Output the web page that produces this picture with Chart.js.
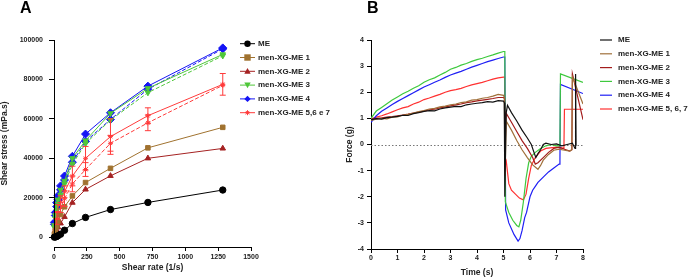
<!DOCTYPE html>
<html>
<head>
<meta charset="utf-8">
<script src="https://cdn.jsdelivr.net/npm/chart.js"></script>
<style>
  body { margin: 0; background: #fff; }
  #wrap { position: relative; width: 697px; height: 280px; font-family: "Liberation Sans", Arial, sans-serif; }
  .panel { position: absolute; top: 0; height: 280px; }
  #boxA { left: 0; width: 345px; }
  #boxB { left: 345px; width: 352px; }
  .tag { position: absolute; top: 0; font-weight: bold; font-size: 16px; line-height: 16px; color: #000; }
</style>
</head>
<body>
<div id="wrap">
  <div class="panel" id="boxA"><canvas id="chartA" width="345" height="280"></canvas></div>
  <div class="panel" id="boxB"><canvas id="chartB" width="352" height="280"></canvas></div>
  <div class="tag" style="left:20px">A</div>
  <div class="tag" style="left:367px">B</div>
</div>
<script>
// ---- panel A data: shear stress vs shear rate
const shearRate = [3, 10, 20, 30, 50, 80, 140, 240, 430, 715, 1285];
const stressME   = [0, 100, 300, 700, 1500, 3500, 6900, 10000, 14000, 17600, 23900];
const stressXG1  = [1500, 3500, 5500, 8000, 11500, 15400, 20900, 27700, 34900, 45300, 55700];
const stressXG2  = [800, 2000, 3500, 5000, 7000, 10300, 17500, 24200, 31100, 40000, 45000];
const stressXG3  = [6000, 11000, 15500, 19000, 24000, 28500, 40000, 49000, 62800, 75500, 92700];
const stressXG3b = [5000, 9500, 13500, 17000, 21500, 27000, 37000, 47500, 59400, 73300, 92000];
const stressXG4  = [7500, 12500, 17500, 21000, 26000, 31000, 41000, 52300, 63100, 76600, 96000];
const stressXG4b = [6500, 11000, 15500, 19000, 24000, 29000, 38000, 48500, 59700, 75000, 95500];
const stressXG5  = [3000, 7000, 11000, 14500, 18500, 23000, 31000, 40000, 51000, 61600, 77500];
const stressXG5b = [2000, 5000, 8000, 11000, 15000, 19500, 27000, 34300, 47600, 58000, 77000];
const errXG5     = [0, 0, 1500, 2000, 2500, 3000, 5000, 6000, 9000, 4000, 5500];
const errXG5b    = [0, 0, 1500, 2000, 2500, 4000, 4000, 3500, 4000, 4000, 0];
const shearTicks  = [0, 250, 500, 750, 1000, 1250, 1500];
const stressTicks = [0, 20000, 40000, 60000, 80000, 100000];
const labelsA = ['ME', 'men-XG-ME 1', 'men-XG-ME 2', 'men-XG-ME 3', 'men-XG-ME 4', 'men-XG-ME 5,6 e 7'];

// ---- panel B data: force vs time
const tRise = [0, 0.2, 0.4, 0.6, 0.8, 1.0, 1.2, 1.4, 1.6, 1.8, 2.0, 2.2, 2.4, 2.6, 2.8, 3.0, 3.2, 3.4, 3.6, 3.8, 4.0, 4.2, 4.4, 4.6, 4.8, 5.0];
const riseME  = [0.95, 0.99, 0.97, 1.03, 1.05, 1.08, 1.12, 1.11, 1.18, 1.22, 1.27, 1.3, 1.29, 1.36, 1.4, 1.43, 1.46, 1.45, 1.52, 1.55, 1.58, 1.6, 1.64, 1.62, 1.68, 1.66];
const riseXG1 = [0.92, 0.97, 1.0, 0.98, 1.05, 1.06, 1.12, 1.15, 1.2, 1.26, 1.3, 1.36, 1.38, 1.44, 1.47, 1.52, 1.55, 1.6, 1.63, 1.7, 1.72, 1.77, 1.8, 1.85, 1.92, 1.88];
const riseXG2 = [0.95, 1.0, 1.02, 1.05, 1.07, 1.1, 1.13, 1.16, 1.2, 1.24, 1.28, 1.33, 1.35, 1.4, 1.44, 1.48, 1.52, 1.55, 1.6, 1.63, 1.67, 1.7, 1.73, 1.76, 1.8, 1.8];
const riseXG3 = [1.0, 1.28, 1.42, 1.56, 1.7, 1.82, 1.94, 2.04, 2.15, 2.25, 2.38, 2.48, 2.55, 2.66, 2.76, 2.88, 2.95, 3.04, 3.1, 3.18, 3.25, 3.3, 3.37, 3.43, 3.5, 3.56];
const riseXG4 = [0.85, 1.1, 1.27, 1.4, 1.53, 1.65, 1.76, 1.87, 1.98, 2.09, 2.2, 2.29, 2.38, 2.47, 2.57, 2.66, 2.73, 2.8, 2.88, 2.96, 3.03, 3.1, 3.17, 3.23, 3.29, 3.35];
const riseXG5 = [0.98, 1.05, 1.1, 1.17, 1.25, 1.33, 1.4, 1.45, 1.55, 1.62, 1.72, 1.78, 1.85, 1.92, 2.0, 2.06, 2.1, 2.15, 2.22, 2.28, 2.33, 2.38, 2.44, 2.5, 2.55, 2.58];

const tPostME  = [5.03, 5.05, 5.1, 5.15, 5.3, 5.5, 5.7, 5.9, 6.05, 6.15, 6.22, 6.3, 6.4, 6.5, 6.6, 6.8, 7.0, 7.2, 7.4, 7.6, 7.7, 7.72, 7.74];
const yPostME  = [1.6, -2.0, 1.2, 1.5, 1.22, 0.9, 0.55, 0.25, 0.0, -0.3, -0.5, -0.35, -0.2, 0.0, 0.05, 0.0, 0.02, -0.05, 0.0, 0.05, -0.15, 2.7, -0.05];
const tPostXG1 = [5.03, 5.06, 5.1, 5.3, 5.5, 5.7, 5.9, 6.1, 6.3, 6.4, 6.5, 6.7, 6.9, 7.1, 7.3, 7.5, 7.58, 7.6, 8.0];
const yPostXG1 = [1.8, -1.2, 0.9, 0.55, 0.15, -0.2, -0.5, -0.78, -0.95, -0.8, -0.6, -0.38, -0.22, -0.18, -0.22, -0.25, -0.2, 2.6, 1.55];
const tPostXG2 = [5.04, 5.07, 5.1, 5.3, 5.5, 5.7, 5.9, 6.1, 6.2, 6.3, 6.5, 6.7, 6.9, 7.1, 7.3, 7.5, 7.58, 7.6, 8.0];
const yPostXG2 = [1.75, 0.2, 1.2, 0.85, 0.5, 0.15, -0.15, -0.5, -0.75, -0.7, -0.5, -0.3, -0.15, -0.1, -0.18, -0.25, -0.2, 2.7, 0.95];
const tPostXG3 = [5.05, 5.07, 5.2, 5.35, 5.5, 5.58, 5.65, 5.75, 5.85, 5.95, 6.05, 6.2, 6.4, 6.6, 6.8, 7.0, 7.13, 7.15, 8.0];
const yPostXG3 = [3.56, -2.2, -2.6, -2.9, -3.1, -3.15, -2.9, -2.2, -1.3, -0.7, -0.45, -0.3, -0.15, -0.05, 0.0, -0.05, -0.05, 2.7, 2.38];
const tPostXG4 = [5.05, 5.08, 5.2, 5.4, 5.55, 5.62, 5.7, 5.8, 5.87, 6.0, 6.1, 6.2, 6.3, 6.5, 6.7, 6.9, 7.1, 7.13, 7.15, 8.0];
const yPostXG4 = [3.35, -2.5, -3.0, -3.45, -3.7, -3.6, -3.3, -2.8, -2.6, -2.0, -1.75, -1.6, -1.45, -1.25, -1.05, -0.9, -0.75, -0.6, 2.3, 1.95];
const tPostXG5 = [5.04, 5.06, 5.1, 5.2, 5.3, 5.45, 5.6, 5.75, 5.85, 5.95, 6.05, 6.2, 6.4, 6.6, 7.0, 7.28, 7.3, 8.0];
const yPostXG5 = [2.58, -0.5, -0.6, -1.5, -1.75, -1.9, -2.05, -2.12, -1.9, -1.3, -0.8, -0.5, -0.25, -0.15, -0.1, -0.15, 1.35, 1.35];
const timeTicks  = [0, 1, 2, 3, 4, 5, 6, 7, 8];
const forceTicks = [-4, -3, -2, -1, 0, 1, 2, 3, 4];
const labelsB = ['ME', 'men-XG-ME 1', 'men-XG-ME 2', 'men-XG-ME 3', 'men-XG-ME 4', 'men-XG-ME 5, 6, 7'];

const FONT = '"Liberation Sans", Arial, sans-serif';
const colA = ['#000000', '#a0722f', '#a52222', '#4fc73a', '#1414f5', '#ff3b3b'];
const colB = ['#111111', '#a0703a', '#a31c1c', '#3ec93e', '#1f1ff5', '#ff3030'];

function xy(xs, ys) { return ys.map((v, i) => ({ x: xs[i], y: v })); }
function trace(rise, tp, yp) { return xy(tRise, rise).concat(xy(tp, yp)); }

function marker(ctx, style, x, y, r) {
  ctx.beginPath();
  if (style === 'circle') ctx.arc(x, y, r, 0, Math.PI * 2);
  else if (style === 'rect') ctx.rect(x - r, y - r, 2 * r, 2 * r);
  else if (style === 'triangle') { ctx.moveTo(x, y - r); ctx.lineTo(x + r, y + r * 0.8); ctx.lineTo(x - r, y + r * 0.8); ctx.closePath(); }
  else if (style === 'triangleDown') { ctx.moveTo(x, y + r); ctx.lineTo(x + r, y - r * 0.8); ctx.lineTo(x - r, y - r * 0.8); ctx.closePath(); }
  else if (style === 'rectRot') { ctx.moveTo(x, y - r); ctx.lineTo(x + r, y); ctx.lineTo(x, y + r); ctx.lineTo(x - r, y); ctx.closePath(); }
  if (style === 'star') {
    ctx.moveTo(x - r, y); ctx.lineTo(x + r, y); ctx.moveTo(x, y - r); ctx.lineTo(x, y + r);
    ctx.moveTo(x - r * 0.7, y - r * 0.7); ctx.lineTo(x + r * 0.7, y + r * 0.7);
    ctx.moveTo(x - r * 0.7, y + r * 0.7); ctx.lineTo(x + r * 0.7, y - r * 0.7);
    ctx.stroke();
  } else if (style) ctx.fill();
}

// legend drawn at fixed spot, GraphPad style (line + marker)
function legendPlugin(labels, colors, styles, x0, x1, tx, y0, dy, lw) {
  return {
    id: 'sideLegend',
    afterDraw(chart) {
      const ctx = chart.ctx;
      ctx.save();
      ctx.font = 'bold 8px ' + FONT;
      ctx.textBaseline = 'middle';
      labels.forEach((lab, i) => {
        const y = y0 + i * dy;
        ctx.strokeStyle = colors[i]; ctx.fillStyle = colors[i]; ctx.lineWidth = lw;
        ctx.beginPath(); ctx.moveTo(x0, y); ctx.lineTo(x1, y); ctx.stroke();
        if (styles) { ctx.lineWidth = 1; marker(ctx, styles[i], (x0 + x1) / 2, y, styles[i] === 'star' ? 2.5 : 3.2); }
        ctx.fillStyle = '#222';
        ctx.fillText(lab, tx, y);
      });
      ctx.restore();
    }
  };
}

// detached axis lines for panel A
const axesA = {
  id: 'axesA',
  afterDraw(chart) {
    const { ctx, scales: { x, y } } = chart;
    ctx.save();
    ctx.strokeStyle = '#000'; ctx.lineWidth = 1;
    ctx.beginPath();
    const ax = Math.round(x.getPixelForValue(0)) + 0.5;
    ctx.moveTo(ax, y.getPixelForValue(stressTicks[stressTicks.length - 1]));
    ctx.lineTo(ax, y.getPixelForValue(0));
    const ay = Math.round(y.bottom) + 0.5;
    ctx.moveTo(x.getPixelForValue(0), ay);
    ctx.lineTo(x.getPixelForValue(shearTicks[shearTicks.length - 1]), ay);
    ctx.stroke();
    ctx.restore();
  }
};

// error bars for the red series
const errBars = {
  id: 'errBars',
  afterDatasetsDraw(chart) {
    const { ctx, scales: { x, y } } = chart;
    ctx.save();
    ctx.strokeStyle = colA[5]; ctx.lineWidth = 1;
    [[stressXG5, errXG5], [stressXG5b, errXG5b]].forEach(([vals, errs]) => {
      vals.forEach((v, i) => {
        if (!errs[i]) return;
        const px = x.getPixelForValue(shearRate[i]);
        const top = y.getPixelForValue(v + errs[i]), bot = y.getPixelForValue(v - errs[i]);
        ctx.beginPath();
        ctx.moveTo(px, top); ctx.lineTo(px, bot);
        ctx.moveTo(px - 3, top); ctx.lineTo(px + 3, top);
        ctx.moveTo(px - 3, bot); ctx.lineTo(px + 3, bot);
        ctx.stroke();
      });
    });
    ctx.restore();
  }
};

const zeroLine = {
  id: 'zeroLine',
  beforeDatasetsDraw(chart) {
    const { ctx, chartArea, scales: { y } } = chart;
    const py = Math.round(y.getPixelForValue(0)) + 0.5;
    ctx.save();
    ctx.strokeStyle = '#777'; ctx.lineWidth = 1; ctx.setLineDash([1.5, 2]);
    ctx.beginPath(); ctx.moveTo(chartArea.left, py); ctx.lineTo(chartArea.right, py); ctx.stroke();
    ctx.restore();
  }
};

function ds(label, vals, color, style, dash, rot) {
  return {
    label: label, data: xy(shearRate, vals),
    borderColor: color, backgroundColor: color, borderWidth: 1,
    borderDash: dash ? [4, 2] : [],
    pointStyle: style, pointRotation: rot || 0,
    pointRadius: style === 'star' ? 2.5 : (style === 'rectRot' ? 4 : 3.2),
    pointBorderWidth: 1, tension: 0, clip: false
  };
}

const tickFont = { family: FONT, size: 7, weight: 'bold' };
const titleFont = { family: FONT, size: 8.5, weight: 'bold' };

new Chart(document.getElementById('chartA'), {
  type: 'line',
  data: {
    datasets: [
      ds(labelsA[0], stressME, colA[0], 'circle'),
      ds(labelsA[1], stressXG1, colA[1], 'rect'),
      ds(labelsA[2], stressXG2, colA[2], 'triangle'),
      ds(labelsA[3], stressXG3, colA[3], 'triangle', false, 180),
      ds(labelsA[3], stressXG3b, colA[3], 'triangle', true, 180),
      ds(labelsA[4], stressXG4, colA[4], 'rectRot'),
      ds(labelsA[4], stressXG4b, colA[4], 'rectRot', true),
      ds(labelsA[5], stressXG5, colA[5], 'star'),
      ds(labelsA[5], stressXG5b, colA[5], 'star', true)
    ]
  },
  options: {
    responsive: false, animation: false,
    layout: { padding: { left: 0, top: 40, right: 94, bottom: 0 } },
    plugins: { legend: { display: false }, tooltip: { enabled: false } },
    scales: {
      x: {
        type: 'linear', min: 0, max: 1500,
        afterBuildTicks: s => { s.ticks = shearTicks.map(v => ({ value: v })); },
        afterFit: s => { s.height = 33; },
        border: { display: false },
        grid: { drawOnChartArea: false, tickLength: 4, color: '#000' },
        ticks: { font: tickFont, color: '#222', padding: 2, maxRotation: 0, callback: v => String(v) },
        title: { display: true, text: 'Shear rate (1/s)', font: titleFont, color: '#222', padding: { top: 0, bottom: 7 } }
      },
      y: {
        min: -5000, max: 100000,
        afterBuildTicks: s => { s.ticks = stressTicks.map(v => ({ value: v })); },
        afterFit: s => { s.width = 54; },
        border: { display: false },
        grid: { drawOnChartArea: false, tickLength: 5, color: '#000' },
        ticks: { font: tickFont, color: '#222', padding: 6, callback: v => String(v) },
        title: { display: true, text: 'Shear stress (mPa.s)', font: titleFont, color: '#222', padding: { top: 0, bottom: 0 } }
      }
    }
  },
  plugins: [axesA, errBars,
    legendPlugin(labelsA, colA, ['circle', 'rect', 'triangle', 'triangleDown', 'rectRot', 'star'], 240, 255, 258, 43.7, 13.8, 1)]
});

function lineB(label, data, color) {
  return { label: label, data: data, borderColor: color, backgroundColor: color, borderWidth: 1.2, pointRadius: 0, tension: 0 };
}

new Chart(document.getElementById('chartB'), {
  type: 'line',
  data: {
    datasets: [
      lineB(labelsB[0], trace(riseME, tPostME, yPostME), colB[0]),
      lineB(labelsB[1], trace(riseXG1, tPostXG1, yPostXG1), colB[1]),
      lineB(labelsB[2], trace(riseXG2, tPostXG2, yPostXG2), colB[2]),
      lineB(labelsB[3], trace(riseXG3, tPostXG3, yPostXG3), colB[3]),
      lineB(labelsB[4], trace(riseXG4, tPostXG4, yPostXG4), colB[4]),
      lineB(labelsB[5], trace(riseXG5, tPostXG5, yPostXG5), colB[5])
    ]
  },
  options: {
    responsive: false, animation: false,
    layout: { padding: { left: 0, top: 40, right: 114, bottom: 0 } },
    plugins: { legend: { display: false }, tooltip: { enabled: false } },
    scales: {
      x: {
        type: 'linear', min: 0, max: 8,
        afterBuildTicks: s => { s.ticks = timeTicks.map(v => ({ value: v })); },
        afterFit: s => { s.height = 31; },
        border: { display: true, color: '#000', width: 1 },
        grid: { drawOnChartArea: false, tickLength: 4, color: '#000' },
        ticks: { font: tickFont, color: '#222', padding: 1, maxRotation: 0 },
        title: { display: true, text: 'Time (s)', font: titleFont, color: '#222', padding: { top: 0, bottom: 2 } }
      },
      y: {
        min: -4, max: 4,
        afterBuildTicks: s => { s.ticks = forceTicks.map(v => ({ value: v })); },
        afterFit: s => { s.width = 26; },
        border: { display: true, color: '#000', width: 1 },
        grid: { drawOnChartArea: false, tickLength: 4, color: '#000' },
        ticks: { font: tickFont, color: '#222', padding: 3 },
        title: { display: true, text: 'Force (g)', font: titleFont, color: '#222', padding: { top: 0, bottom: 0 } }
      }
    }
  },
  plugins: [zeroLine, legendPlugin(labelsB, colB, null, 255, 267, 273, 40, 13.8, 1.2)]
});
</script>
</body>
</html>
